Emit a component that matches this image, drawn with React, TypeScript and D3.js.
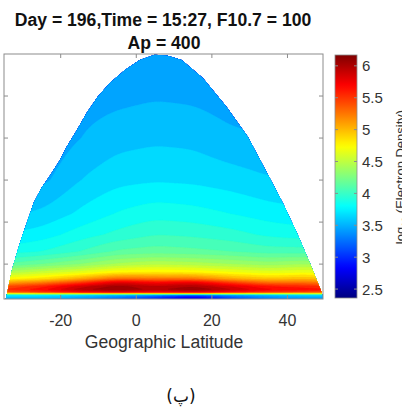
import React, { useMemo } from 'react';
import * as d3 from 'd3';

// ---- data ----
const latitudes = [-35, -25, -15, -5, 5, 15, 25, 35, 45, 50];
const altitudes = [17, 22, 27, 30, 34, 40, 47, 55, 65, 80, 100, 130, 170, 220, 300, 400, 500, 600];
// log10 electron density, one row per latitude, values along altitudes
const logDensity: number[][] = [
  [3.5, 3.6, 3.8, 4.5, 5.35, 5.5, 5.4, 5.1, 4.75, 4.45, 4.1, 3.85, 3.7, 3.58, 3.45, 3.35, 3.3, 3.25],
  [3.5, 3.6, 3.8, 4.6, 5.5, 5.65, 5.55, 5.25, 4.85, 4.55, 4.2, 3.9, 3.75, 3.62, 3.47, 3.4, 3.35, 3.3],
  [3.4, 3.5, 3.7, 4.6, 5.7, 5.95, 5.85, 5.5, 5.05, 4.65, 4.3, 4.0, 3.85, 3.72, 3.6, 3.5, 3.45, 3.4],
  [3.2, 3.35, 3.6, 4.6, 5.8, 6.1, 6.05, 5.85, 5.3, 4.8, 4.42, 4.12, 3.93, 3.81, 3.67, 3.56, 3.47, 3.43],
  [3.0, 3.1, 3.5, 4.5, 5.7, 5.95, 5.9, 5.7, 5.25, 4.82, 4.48, 4.15, 4.0, 3.86, 3.69, 3.58, 3.49, 3.44],
  [2.7, 2.8, 3.3, 4.5, 5.8, 6.1, 6.0, 5.8, 5.25, 4.8, 4.45, 4.13, 3.98, 3.84, 3.68, 3.57, 3.48, 3.44],
  [3.1, 3.2, 3.5, 4.5, 5.65, 5.9, 5.8, 5.5, 5.05, 4.72, 4.4, 4.1, 3.94, 3.8, 3.65, 3.52, 3.45, 3.42],
  [3.3, 3.4, 3.6, 4.5, 5.5, 5.7, 5.6, 5.3, 4.95, 4.65, 4.35, 4.05, 3.88, 3.75, 3.61, 3.5, 3.45, 3.42],
  [3.4, 3.5, 3.7, 4.5, 5.45, 5.65, 5.55, 5.3, 5.0, 4.7, 4.4, 4.05, 3.85, 3.72, 3.6, 3.5, 3.45, 3.42],
  [3.4, 3.5, 3.7, 4.5, 5.4, 5.6, 5.5, 5.25, 4.95, 4.65, 4.35, 4.0, 3.8, 3.68, 3.55, 3.47, 3.43, 3.4],
];
// outline of the data region (upper boundary)
const envelopeLat = [-34.52, -34.0, -32.9, -31.6, -30.3, -28.7, -27.2, -25.1, -22.6, -20.2, -18.4, -15.7, -13.1, -10.2, -7.0, -3.0, 0.9, 4.9, 8.3, 12.0, 17.6, 23.9, 29.5, 35.3, 38.8, 42.5, 45.9, 49.1, 49.4];
const envelopeAlt = [17, 38, 86, 126, 164, 205, 245, 281, 314, 348, 379, 419, 460, 498, 531, 562, 586, 598, 596, 586, 543, 474, 403, 305, 245, 174, 103, 31, 17];

const xTicks = [-20, 0, 20, 40];
const yTicks = [100, 200, 300, 400, 500];
const cbTicks = [2.5, 3, 3.5, 4, 4.5, 5, 5.5, 6];
const cbDomain: [number, number] = [2.36, 6.17];
const xDomain: [number, number] = [-35, 49.4];
const yDomain: [number, number] = [17, 600];

const titleLine1 = 'Day = 196,Time = 15:27, F10.7 = 100';
const titleLine2 = 'Ap = 400';
const xLabel = 'Geographic Latitude';
const caption = '(پ)';

// ---- layout ----
const W = 402, H = 407;
const PL = 4, PR = 323, PT = 54, PB = 299;
const CBL = 335, CBR = 357, CBT = 55, CBB = 298;

const clamp = (v: number) => Math.max(0, Math.min(1, v));
function jet(f: number): string {
  const r = clamp(1.5 - Math.abs(4 * f - 3));
  const g = clamp(1.5 - Math.abs(4 * f - 2));
  const b = clamp(1.5 - Math.abs(4 * f - 1));
  return d3.rgb(r * 255, g * 255, b * 255).formatHex();
}
const colorOf = (v: number) => jet((v - cbDomain[0]) / (cbDomain[1] - cbDomain[0]));

function locate(arr: number[], v: number): [number, number] {
  if (v <= arr[0]) return [0, 0];
  if (v >= arr[arr.length - 1]) return [arr.length - 2, 1];
  const i = Math.max(1, d3.bisectRight(arr, v)) - 1;
  return [i, (v - arr[i]) / (arr[i + 1] - arr[i])];
}
function sample(lat: number, alt: number): number {
  const [i, tx] = locate(latitudes, lat);
  const [j, ty] = locate(altitudes, alt);
  const a = logDensity[i][j], b = logDensity[i + 1][j];
  const c = logDensity[i][j + 1], d = logDensity[i + 1][j + 1];
  return (a * (1 - tx) + b * tx) * (1 - ty) + (c * (1 - tx) + d * tx) * ty;
}

export default function App() {
  const x = d3.scaleLinear().domain(xDomain).range([PL, PR]);
  const y = d3.scaleLinear().domain(yDomain).range([PB, PT]);
  const cb = d3.scaleLinear().domain(cbDomain).range([CBB, CBT]);

  const { bands, baseColor } = useMemo(() => {
    const S = 2;
    const gw = Math.round((PR - PL) * S), gh = Math.round((PB - PT) * S);
    const vals: number[] = new Array(gw * gh);
    for (let j = 0; j < gh; j++) {
      const alt = y.invert(PT + (j + 0.5) / S);
      for (let i = 0; i < gw; i++) {
        const lat = x.invert(PL + (i + 0.5) / S);
        vals[j * gw + i] = sample(lat, alt);
      }
    }
    // smooth along latitude only, to soften the kinks of the coarse grid
    if ((d3 as any).blur2) (d3 as any).blur2({ data: vals, width: gw, height: gh }, 14, 0);
    const thr = d3.range(2.4, 6.2, 0.1).map((v) => +v.toFixed(2));
    const cs = d3.contours().size([gw, gh]).thresholds(thr)(vals);
    const path = d3.geoPath(d3.geoIdentity().scale(1 / S));
    return {
      bands: cs.map((c) => ({ d: path(c as any) || '', color: colorOf(c.value + 0.05) })),
      baseColor: colorOf(2.35),
    };
  }, []);

  const envPts = envelopeLat.map((la, i) => ({ la, al: envelopeAlt[i] }));
  const envPath = d3
    .area<{ la: number; al: number }>()
    .x((d) => x(d.la))
    .y0(PB)
    .y1((d) => y(d.al))
    .curve(d3.curveLinear)(envPts) || '';

  const gradStops = d3.range(0, 1.0001, 0.02);
  const frame = '#8c8c8c';
  const txt = '#333333';
  const font = 'Liberation Sans, Arial, sans-serif';

  return (
    <svg width={W} height={H} style={{ position: 'absolute', left: 0, top: 0, background: '#fff' }} fontFamily={font}>
      <defs>
        <clipPath id="env">
          <path d={envPath} />
        </clipPath>
        <linearGradient id="cbgrad" x1="0" y1="1" x2="0" y2="0">
          {gradStops.map((f) => (
            <stop key={f} offset={f} stopColor={jet(f)} />
          ))}
        </linearGradient>
      </defs>
      <rect x={0} y={0} width={W} height={H} fill="#fff" />
      {/* title */}
      <text x={163} y={26} textAnchor="middle" fontWeight="bold" fontSize={17.6} fill="#111">{titleLine1}</text>
      <text x={164} y={49} textAnchor="middle" fontWeight="bold" fontSize={17.6} fill="#111">{titleLine2}</text>

      {/* field */}
      <g clipPath="url(#env)">
        <rect x={PL} y={PT} width={PR - PL} height={PB - PT} fill={baseColor} />
        <g transform={`translate(${PL},${PT})`}>
          {bands.map((b, i) => (
            <path key={i} d={b.d} fill={b.color} stroke={b.color} strokeWidth={0.3} />
          ))}
        </g>
      </g>

      {/* frame and ticks */}
      <rect x={PL} y={PT} width={PR - PL} height={PB - PT} fill="none" stroke={frame} strokeWidth={1} />
      {xTicks.map((t) => (
        <g key={'x' + t}>
          <line x1={x(t)} x2={x(t)} y1={PB} y2={PB - 4} stroke={frame} />
          <line x1={x(t)} x2={x(t)} y1={PT} y2={PT + 4} stroke={frame} />
          <text x={x(t)} y={326} textAnchor="middle" fontSize={16} fill={txt}>{t}</text>
        </g>
      ))}
      {yTicks.map((t) => (
        <g key={'y' + t}>
          <line x1={PL} x2={PL + 4} y1={y(t)} y2={y(t)} stroke={frame} />
          <line x1={PR} x2={PR - 4} y1={y(t)} y2={y(t)} stroke={frame} />
        </g>
      ))}
      <text x={164} y={348} textAnchor="middle" fontSize={17.6} fill={txt}>{xLabel}</text>

      {/* colorbar */}
      <rect x={CBL} y={CBT} width={CBR - CBL} height={CBB - CBT} fill="url(#cbgrad)" stroke={frame} strokeWidth={0.8} />
      {cbTicks.map((t) => (
        <g key={'c' + t}>
          <line x1={CBR} x2={CBR - 3} y1={cb(t)} y2={cb(t)} stroke={frame} />
          <line x1={CBL} x2={CBL + 3} y1={cb(t)} y2={cb(t)} stroke={frame} />
          <text x={362} y={cb(t) + 5.5} fontSize={15} fill={txt}>{t}</text>
        </g>
      ))}
      <text transform="translate(405,177) rotate(-90)" textAnchor="middle" fontSize={13} fill={txt}>
        log<tspan fontSize={9} dy={3}>10</tspan><tspan dy={-3}> (Electron Density)</tspan>
      </text>

      <text x={181} y={402} textAnchor="middle" fontSize={17} fill="#111" fontFamily="DejaVu Sans, Noto Sans, sans-serif">{caption}</text>
    </svg>
  );
}
